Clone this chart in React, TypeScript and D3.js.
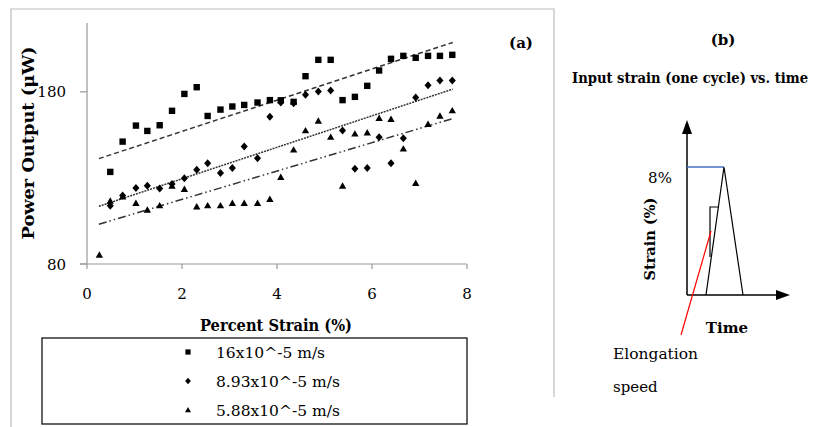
import { useMemo } from "react";
import * as d3 from "d3";

const strain = [0.26, 0.49, 0.75, 1.03, 1.27, 1.53, 1.79, 2.05, 2.31, 2.54, 2.81, 3.06, 3.31, 3.59, 3.85,
  4.08, 4.35, 4.6, 4.87, 5.13, 5.38, 5.64, 5.9, 6.15, 6.4, 6.66, 6.92, 7.18, 7.43, 7.69];

// power output (uW), 16x10^-5 m/s (starts at second strain value)
const fastPower = [133.5, 151.1, 160.4, 157.3, 160.6, 169.0, 178.8, 182.7, 166.0, 169.7, 171.5, 172.4, 173.8,
  175.2, 175.1, 174.2, 189.1, 198.6, 198.6, 175.2, 177.1, 183.5, 192.4, 199.2, 200.9, 199.8, 200.9, 200.9, 201.5];

// 8.93x10^-5 m/s (starts at second strain value)
const midPower = [113.9, 119.8, 124.2, 125.5, 123.8, 126.5, 129.8, 134.7, 138.5, 132.9, 135.8, 148.2, 141.5,
  165.6, 173.8, 173.4, 178.3, 180.2, 180.8, 157.5, 135.4, 135.8, 153.7, 138.5, 153.1, 176.7, 183.9, 186.6, 186.6];

// 5.88x10^-5 m/s
const slowPower = [85.2, 116.6, 119.1, 115.3, 111.4, 113.9, 125.3, 123.4, 113.3, 113.9, 113.9, 115.3, 115.3,
  115.3, 117.6, 130.4, 146.3, 157.5, 163.1, 153.7, 125.3, 155.6, 156.3, 164.7, 164.1, 146.9, 126.9, 161.2, 166.0, 169.1];

// linear trendlines, read at both ends
const trendStrain = [0.25, 7.7];
const fastTrend = [141.2, 208.7];
const midTrend = [113.5, 181.6];
const slowTrend = [103.1, 164.5];

const seriesNames = ["16x10^-5 m/s", "8.93x10^-5 m/s", "5.88x10^-5 m/s"];
const xTicks = [0, 2, 4, 6, 8];
const yTicks = [80, 180];

const FONT = "'DejaVu Serif', serif";

type Shape = "square" | "diamond" | "triangle";

function marker(shape: Shape, s: number) {
  if (shape === "square") return `M${-s},${-s}H${s}V${s}H${-s}Z`;
  if (shape === "diamond") return `M0,${-s * 1.25}L${s * 1.1},0L0,${s * 1.25}L${-s * 1.1},0Z`;
  return `M0,${-s * 1.15}L${s * 1.15},${s * 0.85}L${-s * 1.15},${s * 0.85}Z`;
}

export default function App() {
  const x = useMemo(() => d3.scaleLinear().domain([0, 8]).range([87, 467]), []);
  const y = useMemo(() => d3.scaleLinear().domain([80, 220]).range([264, 23]), []);

  const series = [
    { shape: "square" as Shape, xs: strain.slice(1), ys: fastPower, trend: fastTrend, dash: "5,3" },
    { shape: "diamond" as Shape, xs: strain.slice(1), ys: midPower, trend: midTrend, dash: "2,1" },
    { shape: "triangle" as Shape, xs: strain, ys: slowPower, trend: slowTrend, dash: "8,3,1.5,3,1.5,3" },
  ];

  const line = d3.line<[number, number]>().x(d => x(d[0])).y(d => y(d[1]));

  // panel (b) diagram geometry
  const ox = 687, oy = 295;
  const peakX = 724, peakY = 167;

  return (
    <svg width={814} height={427} style={{ position: "absolute", left: 0, top: 0, background: "#fff", fontFamily: FONT }}>
      {/* outer chart frame */}
      <path d="M11,427V9H554V397" fill="none" stroke="#bdbdbd" strokeWidth={1.2} />

      {/* axes */}
      <line x1={x(0)} x2={x(0)} y1={23} y2={y(80)} stroke="#999" strokeWidth={1.2} />
      <line x1={80} x2={x(8)} y1={y(80)} y2={y(80)} stroke="#999" strokeWidth={1.2} />
      {xTicks.map(t => (
        <g key={"x" + t}>
          <line x1={x(t)} x2={x(t)} y1={y(80)} y2={y(80) + 5} stroke="#999" strokeWidth={1.2} />
          <text x={x(t)} y={299} textAnchor="middle" fontSize={15}>{t}</text>
        </g>
      ))}
      {yTicks.map(t => (
        <g key={"y" + t}>
          <line x1={80} x2={x(0)} y1={y(t)} y2={y(t)} stroke="#999" strokeWidth={1.2} />
          <text x={66} y={y(t) + 5.5} textAnchor="end" fontSize={15}>{t}</text>
        </g>
      ))}

      {/* trendlines */}
      {series.map((s, i) => (
        <path key={"t" + i} d={line([[trendStrain[0], s.trend[0]], [trendStrain[1], s.trend[1]]]) || ""}
          fill="none" stroke="#333" strokeWidth={1.5} strokeDasharray={s.dash} />
      ))}

      {/* points */}
      {series.map((s, i) => (
        <g key={"p" + i}>
          {s.ys.map((v, j) => (
            <path key={j} d={marker(s.shape, 3.2)} transform={`translate(${x(s.xs[j])},${y(v)})`} fill="#000" />
          ))}
        </g>
      ))}

      {/* titles */}
      <text transform="translate(34,143) rotate(-90)" textAnchor="middle" fontSize={17} fontWeight="bold"
        textLength={193} lengthAdjust="spacingAndGlyphs">
        Power Output  (μW)
      </text>
      <text x={276} y={331} textAnchor="middle" fontSize={17} fontWeight="bold"
        textLength={152} lengthAdjust="spacingAndGlyphs">Percent Strain (%)</text>
      <text x={521} y={48} textAnchor="middle" fontSize={15} fontWeight="bold">(a)</text>

      {/* legend */}
      <rect x={42} y={338} width={425} height={86} fill="none" stroke="#000" strokeWidth={1.2} />
      {series.map((s, i) => (
        <g key={"l" + i} transform={`translate(0,${352 + i * 29})`}>
          <path d={marker(s.shape, 2.6)} transform="translate(188,0)" fill="#000" />
          <text x={216} y={6} fontSize={15.5}>{seriesNames[i]}</text>
        </g>
      ))}

      {/* panel (b) */}
      <text x={723} y={45} textAnchor="middle" fontSize={15} fontWeight="bold">(b)</text>
      <text x={572} y={83} fontSize={14} fontWeight="bold" textLength={236}
        lengthAdjust="spacingAndGlyphs">Input strain (one cycle) vs. time</text>

      <line x1={ox} x2={ox} y1={oy} y2={132} stroke="#000" strokeWidth={1.5} />
      <path d={`M${ox},120L${ox + 5},134L${ox - 5},134Z`} fill="#000" />
      <line x1={ox} x2={778} y1={oy} y2={oy} stroke="#000" strokeWidth={1.5} />
      <path d={`M790,${oy}L776,${oy - 5}L776,${oy + 5}Z`} fill="#000" />
      <line x1={ox} x2={peakX} y1={peakY} y2={peakY} stroke="#4472c4" strokeWidth={1.3} />
      <path d={`M706,${oy}L${peakX},${peakY}L743,${oy}`} fill="none" stroke="#000" strokeWidth={1.2} />
      <path d="M710,257V207H719" fill="none" stroke="#000" strokeWidth={1.2} />
      <line x1={711} y1={231} x2={681} y2={335} stroke="#ff0000" strokeWidth={1.2} />

      <text x={660} y={183} textAnchor="middle" fontSize={15}>8%</text>
      <text transform="translate(655,239) rotate(-90)" textAnchor="middle" fontSize={14} fontWeight="bold"
        textLength={83} lengthAdjust="spacingAndGlyphs">
        Strain (%)
      </text>
      <text x={727} y={333} textAnchor="middle" fontSize={15} fontWeight="bold">Time</text>
      <text x={613} y={359} fontSize={15} textLength={85} lengthAdjust="spacingAndGlyphs">Elongation</text>
      <text x={613} y={392} fontSize={15}>speed</text>
    </svg>
  );
}
